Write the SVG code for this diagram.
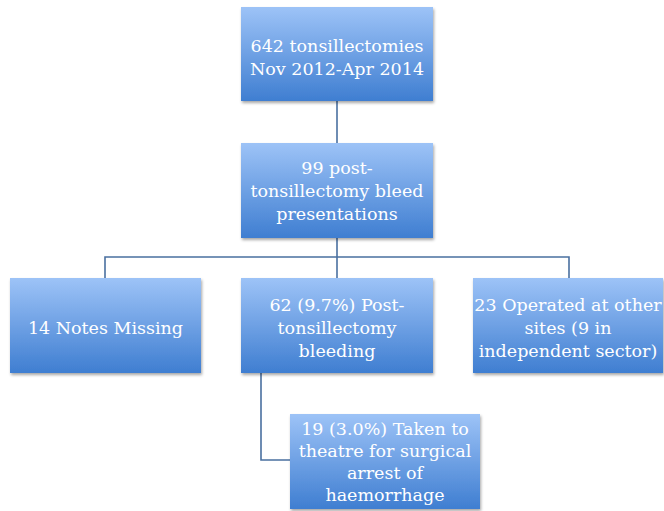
<svg xmlns="http://www.w3.org/2000/svg" width="664" height="511" viewBox="0 0 664 511">
<defs>
<linearGradient id="g" x1="0" y1="0" x2="0" y2="1">
<stop offset="0" stop-color="#9dc3f7"/>
<stop offset="1" stop-color="#3f7ed1"/>
</linearGradient>
<filter id="sh" x="-10%" y="-10%" width="120%" height="130%">
<feDropShadow dx="1" dy="2" stdDeviation="1.5" flood-color="#000" flood-opacity="0.35"/>
</filter>
</defs>
<style>
.box{fill:url(#g);filter:url(#sh);}
.t{font-family:"DejaVu Serif","Liberation Serif",serif;font-size:17.5px;fill:#ffffff;text-anchor:middle;}
.c{fill:none;stroke:#4a70a0;stroke-width:1.6;}
</style>
<rect width="664" height="511" fill="#ffffff"/>
<g id="connectors">
<path class="c" d="M337 101 V143"/>
<path class="c" d="M337 238 V278"/>
<path class="c" d="M105 278 V257 H569 V278"/>
<path class="c" d="M261 373 V460 H290"/>
</g>
<g id="n1">
<rect class="box" x="241" y="7" width="192" height="94"/>
<text class="t" x="337" y="52">642 tonsillectomies</text>
<text class="t" x="337" y="75">Nov 2012-Apr 2014</text>
</g>
<g id="n2">
<rect class="box" x="241" y="143" width="192" height="95"/>
<text class="t" x="337" y="174">99 post-</text>
<text class="t" x="337" y="197">tonsillectomy bleed</text>
<text class="t" x="337" y="220">presentations</text>
</g>
<g id="n3">
<rect class="box" x="10" y="278" width="191" height="95"/>
<text class="t" x="105.5" y="334">14 Notes Missing</text>
</g>
<g id="n4">
<rect class="box" x="241" y="278" width="192" height="95"/>
<text class="t" x="337" y="311">62 (9.7%) Post-</text>
<text class="t" x="337" y="334">tonsillectomy</text>
<text class="t" x="337" y="357">bleeding</text>
</g>
<g id="n5">
<rect class="box" x="473" y="278" width="190" height="95"/>
<text class="t" x="568" y="311">23 Operated at other</text>
<text class="t" x="568" y="334">sites (9 in</text>
<text class="t" x="568" y="357">independent sector)</text>
</g>
<g id="n6">
<rect class="box" x="290" y="414" width="190" height="95"/>
<text class="t" x="385" y="435">19 (3.0%) Taken to</text>
<text class="t" x="385" y="457">theatre for surgical</text>
<text class="t" x="385" y="479">arrest of</text>
<text class="t" x="385" y="501">haemorrhage</text>
</g>
</svg>
